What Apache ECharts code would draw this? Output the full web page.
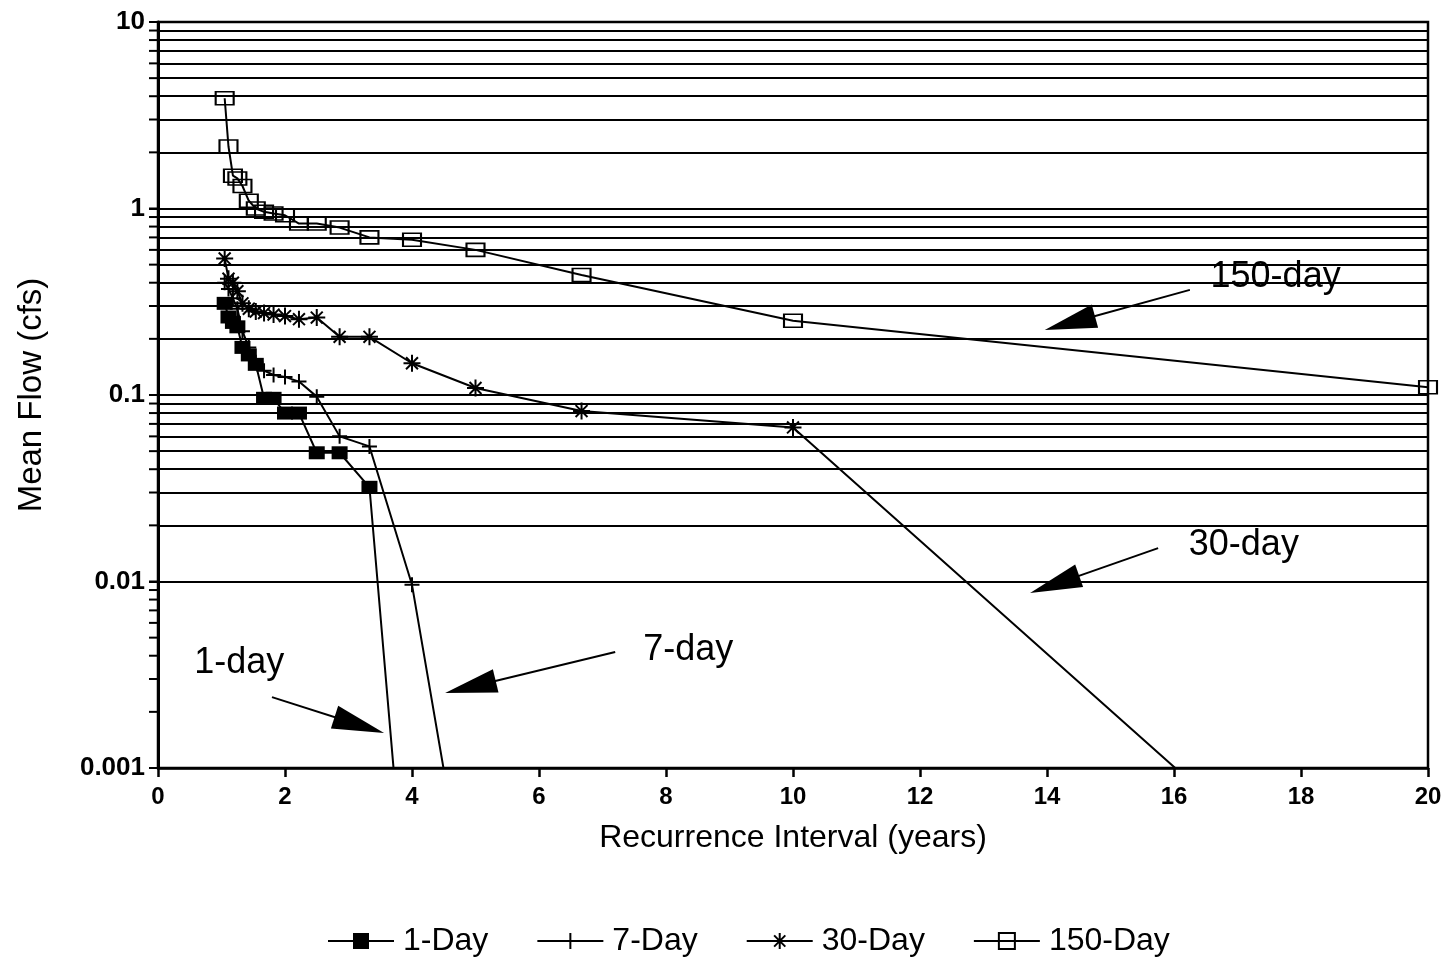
<!DOCTYPE html>
<html>
<head>
<meta charset="utf-8">
<script src="https://cdn.jsdelivr.net/npm/echarts@6/dist/echarts.min.js"></script>
<style>html,body{margin:0;padding:0;background:#fff;}#c{width:1450px;height:963px;}</style>
</head>
<body>
<div id="c"></div>
<script>
// Recurrence intervals (years)
const recurrence = [1.05, 1.11, 1.18, 1.25, 1.33, 1.43, 1.54, 1.67, 1.82, 2.0, 2.22, 2.5, 2.86, 3.33, 4.0, 5.0, 6.67, 10.0, 20.0];
// Mean flow (cfs); values below 0.001 stand for zero flow (off the bottom of the chart)
const flow1Day   = [0.31, 0.262, 0.245, 0.232, 0.18, 0.164, 0.146, 0.096, 0.096, 0.080, 0.080, 0.049, 0.049, 0.032, 0.00007, 0.00007, 0.00007, 0.00007, 0.00007];
const flow7Day   = [0.40, 0.37, 0.33, 0.29, 0.22, 0.18, 0.15, 0.135, 0.128, 0.125, 0.118, 0.098, 0.060, 0.053, 0.0096, 0.0001, 0.0001, 0.0001, 0.0001];
const flow30Day  = [0.54, 0.42, 0.40, 0.36, 0.31, 0.29, 0.28, 0.275, 0.27, 0.265, 0.255, 0.26, 0.205, 0.205, 0.148, 0.109, 0.082, 0.067, 0.000062];
const flow150Day = [3.9, 2.15, 1.5, 1.45, 1.32, 1.1, 1.0, 0.96, 0.94, 0.92, 0.83, 0.83, 0.79, 0.70, 0.68, 0.60, 0.44, 0.25, 0.11];

const seriesNames = ['1-Day', '7-Day', '30-Day', '150-Day'];
const yTickValues = [0.001, 0.01, 0.1, 1, 10];
const yTickLabels = ['0.001', '0.01', '0.1', '1', '10'];
const gridMantissas = [1, 2, 3, 4, 5, 6, 7, 8, 9];
const gridDecades = [0.001, 0.01, 0.1, 1];

// Annotations: label text, label position, arrow tail, arrow head (data coords)
const annotLabels = ['150-day', '30-day', '7-day', '1-day'];
const annotTextPos = [[17.6, 0.43], [17.1, 0.0157], [8.35, 0.0043], [1.28, 0.00366]];
const annotTail = [[16.25, 0.366], [15.75, 0.0151], [7.2, 0.00419], [1.795, 0.0024]];
const annotHead = [[14.36, 0.243], [14.12, 0.00965], [4.92, 0.00272], [3.17, 0.0017]];

const FONT = 'Liberation Sans, Arial, sans-serif';

const gridValues = [];
gridDecades.forEach(d => gridMantissas.forEach(m => gridValues.push(+(d * m).toPrecision(3))));
gridValues.push(10);

function pairs(ys) { return recurrence.map((x, i) => [x, ys[i]]); }

const PLUS = 'path://M5,0L5,10M0,5L10,5';
const STAR = 'path://M5,0L5,10M0,5L10,5M1.5,1.5L8.5,8.5M8.5,1.5L1.5,8.5';

const lineStyle = { color: '#000', width: 2 };

const chart = echarts.init(document.getElementById('c'), null, { renderer: 'canvas' });
const option = {
  animation: false,
  backgroundColor: '#fff',
  grid: { left: 158, right: 22, top: 22, bottom: 195, show: true, borderColor: '#000', borderWidth: 2.5, backgroundColor: 'transparent' },
  legend: {
    data: seriesNames,
    bottom: 1,
    left: 322,
    itemWidth: 66,
    itemHeight: 20,
    itemGap: 48,
    textStyle: { fontFamily: FONT, fontSize: 32, color: '#000', padding: [0, 0, 0, 4] }
  },
  xAxis: {
    type: 'value', min: 0, max: 20, interval: 2,
    name: 'Recurrence Interval (years)', nameLocation: 'middle', nameGap: 54,
    nameTextStyle: { fontFamily: FONT, fontSize: 32, color: '#000' },
    axisLine: { lineStyle: { color: '#000', width: 2.5 } },
    axisTick: { show: true, length: 9, lineStyle: { color: '#000', width: 2.5 } },
    axisLabel: { fontFamily: FONT, fontSize: 24, fontWeight: 'bold', color: '#000', margin: 17 },
    splitLine: { show: false }
  },
  yAxis: {
    type: 'log', logBase: 10, min: 0.001, max: 10,
    name: 'Mean Flow (cfs)', nameLocation: 'middle', nameGap: 110,
    nameTextStyle: { fontFamily: FONT, fontSize: 33, color: '#000' },
    axisLine: { show: true, lineStyle: { color: '#000', width: 3 } },
    axisTick: { show: true, length: 9, lineStyle: { color: '#000', width: 2 } },
    axisLabel: {
      fontFamily: FONT, fontSize: 26, fontWeight: 'bold', color: '#000', margin: 13,
      formatter: v => { const i = yTickValues.findIndex(t => Math.abs(Math.log10(t) - Math.log10(v)) < 1e-6); return i >= 0 ? yTickLabels[i] : ''; }
    },
    splitLine: { show: false }
  },
  series: [
    {
      name: '1-Day', type: 'line', data: pairs(flow1Day),
      symbol: 'rect', symbolSize: [16, 13],
      itemStyle: { color: '#000' }, lineStyle: lineStyle, z: 5
    },
    {
      name: '7-Day', type: 'line', data: pairs(flow7Day),
      symbol: PLUS, symbolSize: 15,
      itemStyle: { color: 'rgba(0,0,0,0)', borderColor: '#000', borderWidth: 2 }, lineStyle: lineStyle, z: 5
    },
    {
      name: '30-Day', type: 'line', data: pairs(flow30Day),
      symbol: STAR, symbolSize: 17,
      itemStyle: { color: 'rgba(0,0,0,0)', borderColor: '#000', borderWidth: 2 }, lineStyle: lineStyle, z: 5
    },
    {
      name: '150-Day', type: 'line', data: pairs(flow150Day),
      symbol: 'rect', symbolSize: [18, 13],
      itemStyle: { color: 'rgba(0,0,0,0)', borderColor: '#000', borderWidth: 1.8 }, lineStyle: lineStyle, z: 5
    },
    {
      name: 'grid', type: 'line', data: [], silent: true, z: 1,
      markLine: {
        silent: true, symbol: ['none', 'none'], animation: false,
        label: { show: false },
        lineStyle: { color: '#000', width: 2, type: 'solid' },
        data: gridValues.map(v => ({ yAxis: v }))
      }
    },
    {
      name: 'annotations', type: 'line', data: [], silent: true, z: 6,
      markLine: {
        silent: true, animation: false,
        label: { show: false },
        lineStyle: { color: '#000', width: 2, type: 'solid' },
        data: annotTail.map((t, i) => [
          { coord: t, symbol: 'none' },
          { coord: annotHead[i], symbol: 'triangle', symbolSize: [24, 52], itemStyle: { color: '#000' } }
        ])
      },
      markPoint: {
        silent: true, animation: false,
        symbol: 'circle', symbolSize: 1,
        itemStyle: { color: 'rgba(0,0,0,0)' },
        label: { show: true, position: 'inside', fontFamily: FONT, fontSize: 36, color: '#000' },
        data: annotLabels.map((t, i) => ({ coord: annotTextPos[i], value: t, label: { formatter: t } }))
      }
    }
  ]
};
chart.setOption(option);

// outward ticks on the y axis at every grid line, positioned via the axis scale
const x0 = chart.convertToPixel({ xAxisIndex: 0 }, 0);
const tickGraphics = gridValues.map(v => {
  const y = chart.convertToPixel({ yAxisIndex: 0 }, v);
  return { type: 'line', shape: { x1: x0 - 9, y1: y, x2: x0, y2: y }, style: { stroke: '#000', lineWidth: 2 }, silent: true };
});
chart.setOption({ graphic: tickGraphics });
</script>
</body>
</html>
